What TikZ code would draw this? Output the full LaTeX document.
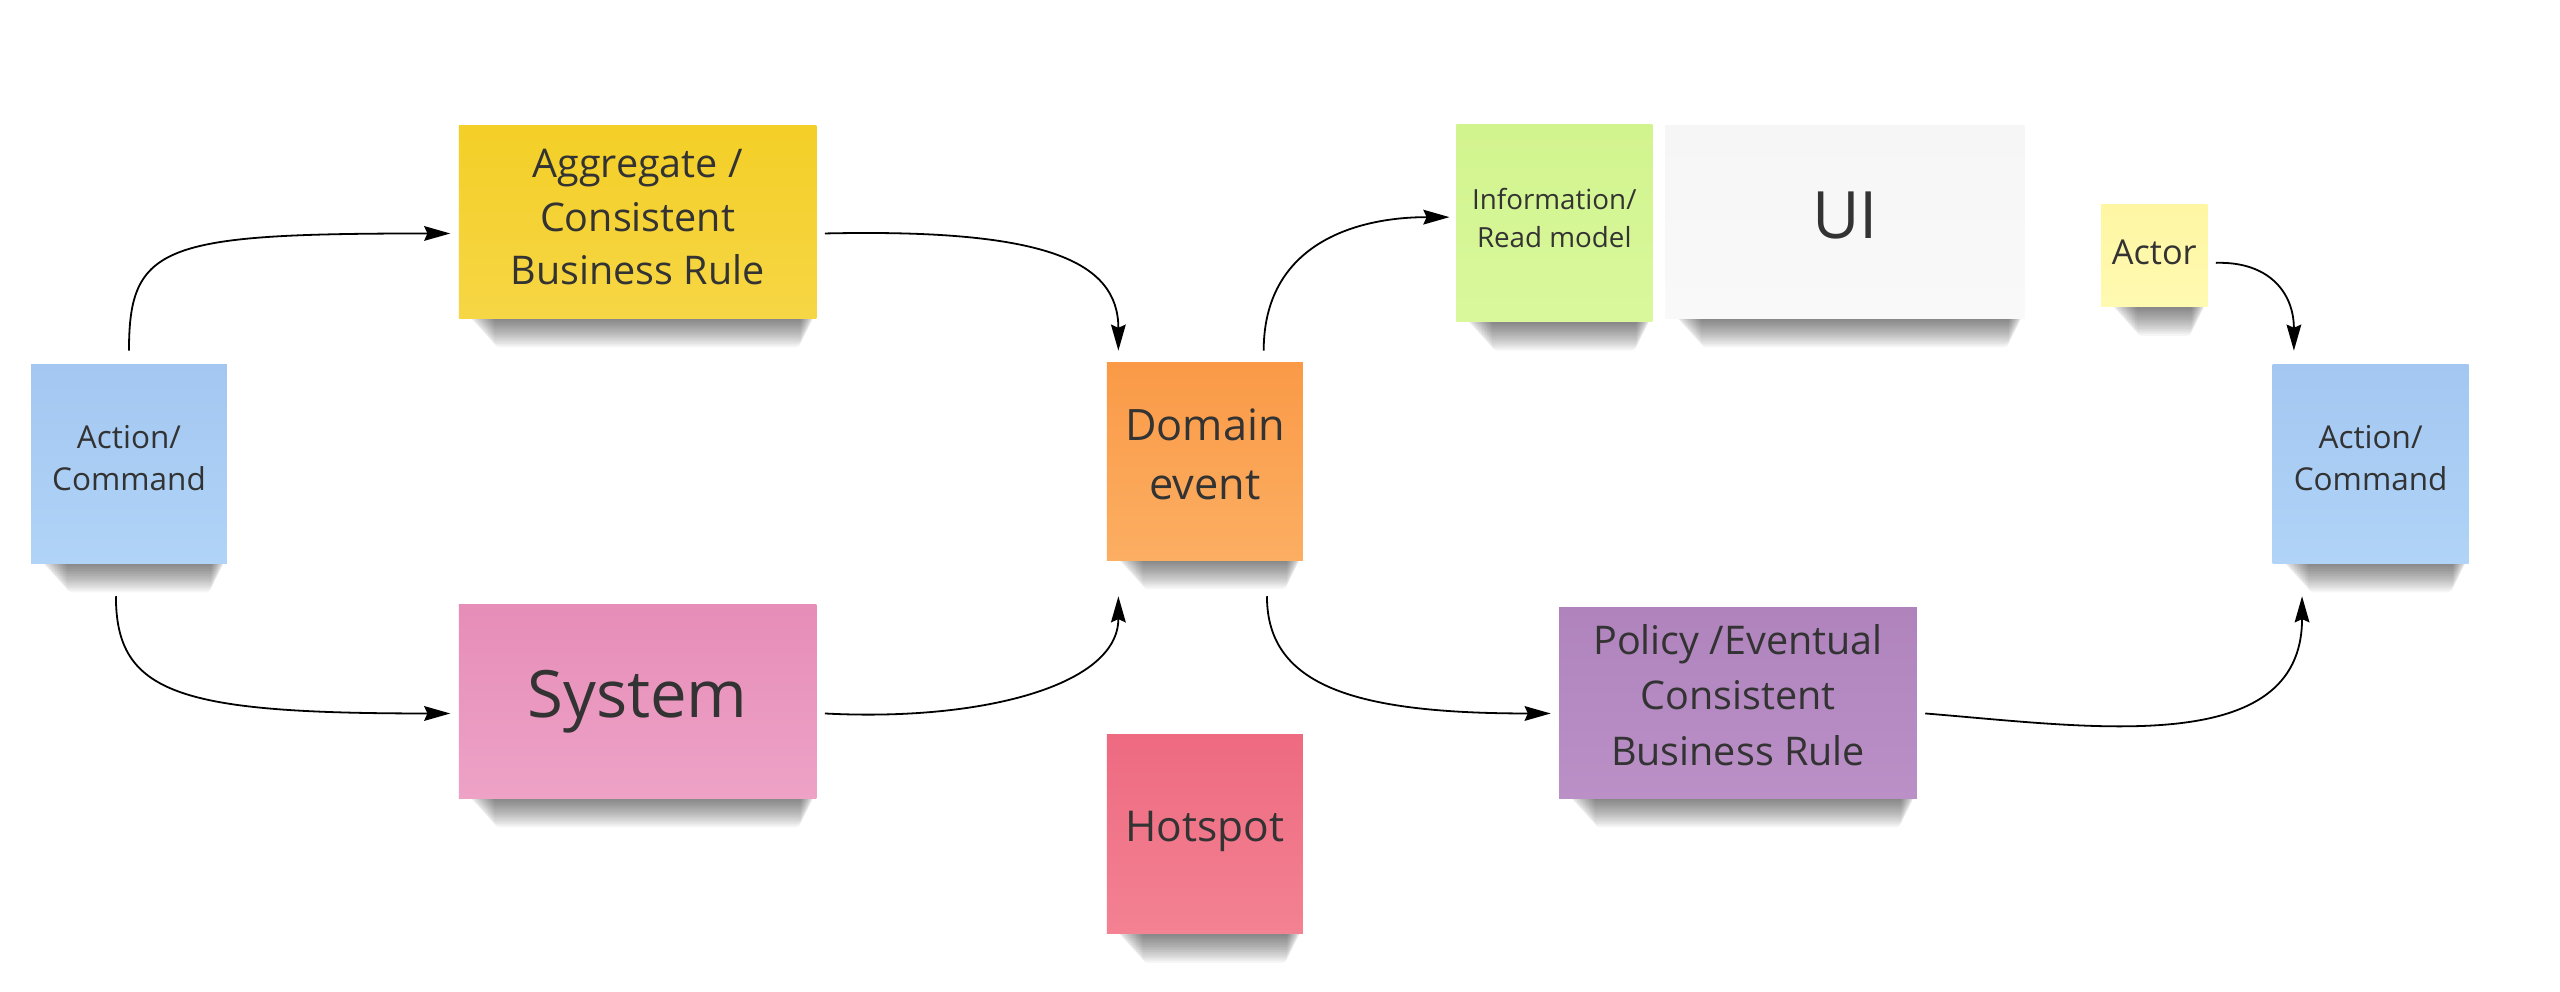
\documentclass[tikz,border=0pt]{standalone}
\usepackage{fontspec}
\setmainfont{Open Sans}
\usetikzlibrary{arrows.meta,calc}
\pgfdeclarelayer{back}
\pgfdeclarelayer{bg}
\pgfsetlayers{back,bg,main}
\definecolor{txt}{HTML}{333333}
\definecolor{blueT}{HTML}{A3C7F1}\definecolor{blueB}{HTML}{B0D3F7}
\definecolor{yelT}{HTML}{F4CF27}\definecolor{yelB}{HTML}{F6D645}
\definecolor{pinkT}{HTML}{E68DB8}\definecolor{pinkB}{HTML}{EEA2C6}
\definecolor{oraT}{HTML}{FA9A47}\definecolor{oraB}{HTML}{FCAE62}
\definecolor{hotT}{HTML}{EE6A80}\definecolor{hotB}{HTML}{F38292}
\definecolor{grnT}{HTML}{D2F48E}\definecolor{grnB}{HTML}{D9F89C}
\definecolor{uiT}{HTML}{F6F6F6}\definecolor{uiB}{HTML}{F9F9F9}
\definecolor{actT}{HTML}{FEF6A2}\definecolor{actB}{HTML}{FFFAB2}
\definecolor{purT}{HTML}{B083BD}\definecolor{purB}{HTML}{BA90C7}
\newcommand\stickshadow[1]{%
  \begin{pgfonlayer}{bg}
  \foreach \k in {1,...,16}{
    \fill[black,opacity=0.036,rounded corners=3pt] ($(#1.south west)+(6+1.0*\k,-8)$) rectangle ($(#1.south east)+(-1-0.55*\k,1.1*\k)$);
  }
  \end{pgfonlayer}}
\tikzset{
  note/.style={rectangle, inner sep=0pt},
  lbl/.style={inner sep=0pt, align=center, text=txt},
  conn/.style={line width=1.1pt, draw=black, -{Stealth[length=16pt,width=9pt,inset=2pt]}},
}
\begin{document}
\begin{tikzpicture}[x=1pt,y=-1pt]
\useasboundingbox (0,0) rectangle (1568,607);
\begin{pgfonlayer}{back}
\fill[white] (0,0) rectangle (1568,607);
\end{pgfonlayer}

\node[note, minimum width=120, minimum height=122, top color=blueT, bottom color=blueB] (actL) at (79,284) {};
\node[lbl, font=\fontsize{19.3}{26}\selectfont] (actLt) at ($(actL)+(0,-3.5)$) {Action/\\Command};
\node[note, minimum width=219, minimum height=118, top color=yelT, bottom color=yelB] (agg) at (390.5,136) {};
\node[lbl, font=\fontsize{24.2}{33}\selectfont] (aggt) at ($(agg)+(0,-3)$) {Aggregate /\\Consistent\\Business Rule};
\node[note, minimum width=219, minimum height=119, top color=pinkT, bottom color=pinkB] (sys) at (390.5,429.5) {};
\node[lbl, font=\fontsize{40}{50}\selectfont] (syst) at (sys) {System};
\node[note, minimum width=120, minimum height=121, top color=oraT, bottom color=oraB] (dom) at (738,282.5) {};
\node[lbl, font=\fontsize{26.5}{36}\selectfont] (domt) at ($(dom)+(0,-4)$) {Domain\\event};
\node[note, minimum width=120, minimum height=122, top color=hotT, bottom color=hotB] (hot) at (738,511) {};
\node[lbl, font=\fontsize{26}{35}\selectfont] (hott) at ($(hot)+(0,-2)$) {Hotspot};
\node[note, minimum width=120, minimum height=121, top color=grnT, bottom color=grnB] (info) at (952,136.5) {};
\node[lbl, font=\fontsize{17}{23}\selectfont] (infot) at ($(info)+(0,-3)$) {Information/\\Read model};
\node[note, minimum width=220, minimum height=118, top color=uiT, bottom color=uiB] (ui) at (1130,136) {};
\node[lbl, font=\fontsize{40}{50}\selectfont] (uit) at ($(ui)+(0,-4)$) {UI};
\node[note, minimum width=65, minimum height=63, top color=actT, bottom color=actB] (actor) at (1319.5,156.5) {};
\node[lbl, font=\fontsize{21}{28}\selectfont] (actort) at ($(actor)+(0,-2)$) {Actor};
\node[note, minimum width=120, minimum height=122, top color=blueT, bottom color=blueB] (actR) at (1452,284) {};
\node[lbl, font=\fontsize{19.3}{26}\selectfont] (actRt) at ($(actR)+(0,-3.5)$) {Action/\\Command};
\node[note, minimum width=219, minimum height=117, top color=purT, bottom color=purB] (pol) at (1064.5,430.5) {};
\node[lbl, font=\fontsize{24.2}{34}\selectfont] (polt) at ($(pol)+(0,-5)$) {Policy /Eventual\\Consistent\\Business Rule};

\foreach \n in {actL,agg,sys,dom,hot,info,ui,actor,actR,pol}{\stickshadow{\n}}

\draw[conn] ($(actL.north)+(0,-8)$) .. controls +(0,-65) and +(-176,0) .. ($(agg.west)+(-5,7)$);
\draw[conn] ($(actL.south)+(-8,20)$) .. controls +(0,60) and +(-166,0) .. ($(sys.west)+(-5,7.5)$);
\draw[conn] ($(agg.east)+(5,7)$) .. controls +(135,-3) and +(0,-55) .. ($(dom.north)+(-53,-7)$);
\draw[conn] ($(sys.east)+(5,7.5)$) .. controls +(95,5) and +(0,55) .. ($(dom.south)+(-53,22)$);
\draw[conn] ($(dom.north)+(36,-7)$) .. controls +(0,-65) and +(-58,0) .. ($(info.west)+(-4,-3.5)$);
\draw[conn] ($(dom.south)+(38,22)$) .. controls +(0,55) and +(-120,0) .. ($(pol.west)+(-5,6.5)$);
\draw[conn] ($(actor.east)+(5,4.5)$) .. controls +(33,-1) and +(0,-35) .. ($(actR.north)+(-47,-8)$);
\draw[conn] ($(pol.east)+(5,6.5)$) .. controls +(100,8) and +(0,100) .. ($(actR.south)+(-42,20)$);
\end{tikzpicture}
\end{document}
